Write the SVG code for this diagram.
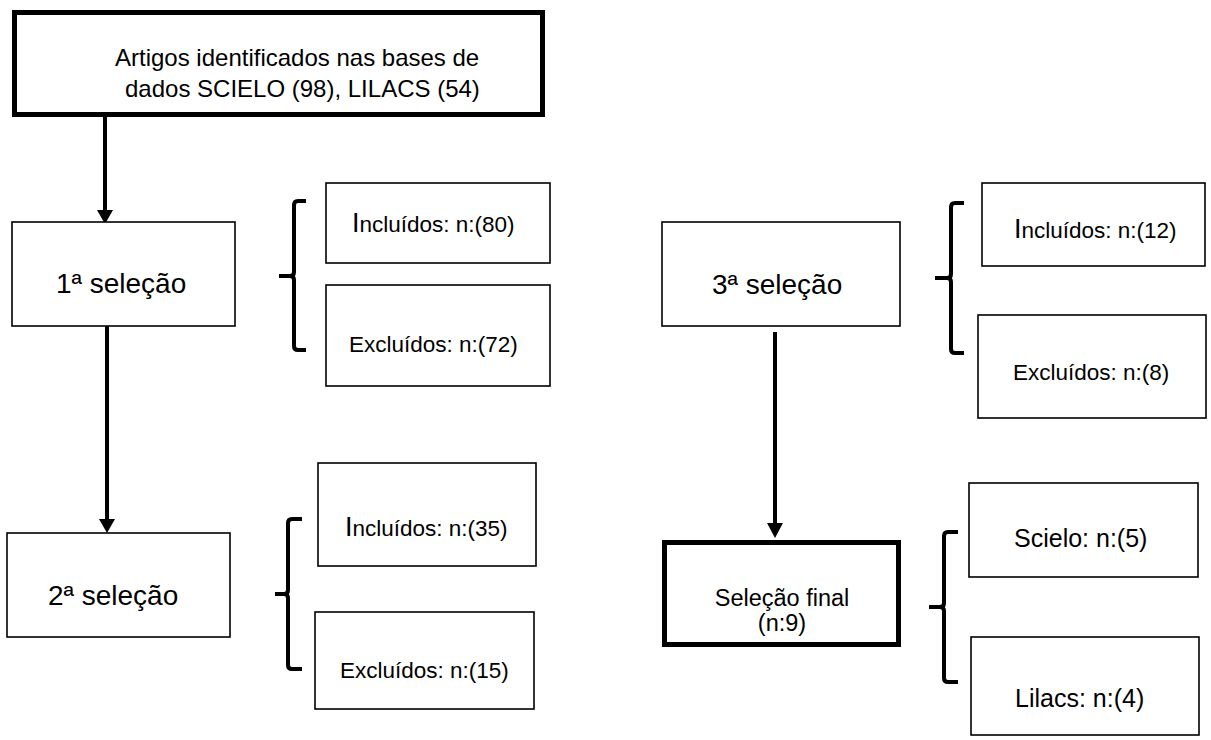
<svg xmlns="http://www.w3.org/2000/svg" width="1211" height="740" viewBox="0 0 1211 740">
<style>
  .box{fill:#fff;stroke:#000;stroke-width:1.6}
  .thick{fill:#fff;stroke:#000;stroke-width:5}
  .t{font-family:"Liberation Sans",Arial,sans-serif;fill:#000}
  .sel{font-size:28px}
  .top{font-size:24px}
  .lab{font-size:22.5px}
  .cap{font-size:27px}
  .fin{font-size:23.5px}
  .db{font-size:25px}
  .con{stroke:#000;stroke-width:4;fill:none}
  .br{stroke:#000;stroke-width:4;fill:none;stroke-linejoin:round}
  .head{fill:#000}
</style>
<rect width="1211" height="740" fill="#fff"/>
<g id="connectors">
  <line class="con" x1="105" y1="117" x2="105" y2="212"/>
  <polygon class="head" points="97,210 113,210 105,224"/>
  <line class="con" x1="107" y1="326" x2="107" y2="521"/>
  <polygon class="head" points="99,519 115,519 107,533"/>
  <line class="con" x1="775" y1="332" x2="775" y2="525"/>
  <polygon class="head" points="767,523 783,523 775,538"/>
  <path class="br" d="M306,201 H298 Q294,201 294,205 V272 Q294,276 290,276 H279 M290,276 Q294,276 294,280 V346 Q294,350 298,350 H306"/>
  <path class="br" d="M302,519 H292 Q288,519 288,523 V590 Q288,594 284,594 H275 M284,594 Q288,594 288,598 V665 Q288,669 292,669 H302"/>
  <path class="br" d="M964,203 H955 Q951,203 951,207 V274 Q951,278 947,278 H935 M947,278 Q951,278 951,282 V349 Q951,353 955,353 H964"/>
  <path class="br" d="M958,532 H948 Q944,532 944,536 V603 Q944,607 940,607 H929 M940,607 Q944,607 944,611 V678 Q944,682 948,682 H958"/>
</g>
<g id="n0">
  <rect class="thick" x="14.5" y="12.5" width="528" height="102"/>
  <text class="t top" x="115" y="66">Artigos identificados nas bases de</text>
  <text class="t top" x="125" y="97">dados SCIELO (98), LILACS (54)</text>
</g>
<g id="n1">
  <rect class="box" x="12" y="222" width="223" height="104"/>
  <text class="t sel" x="56" y="293">1ª  seleção</text>
</g>
<g id="n1a">
  <rect class="box" x="326" y="183" width="224" height="80"/>
  <text class="t lab" x="352" y="232"><tspan class="cap">I</tspan>ncluídos: n:(80)</text>
</g>
<g id="n1b">
  <rect class="box" x="326" y="285" width="224" height="101"/>
  <text class="t lab" x="349" y="352">Excluídos: n:(72)</text>
</g>
<g id="n2">
  <rect class="box" x="7" y="533" width="223" height="104"/>
  <text class="t sel" x="48" y="605">2ª  seleção</text>
</g>
<g id="n2a">
  <rect class="box" x="318" y="463" width="218" height="103"/>
  <text class="t lab" x="345" y="536"><tspan class="cap">I</tspan>ncluídos: n:(35)</text>
</g>
<g id="n2b">
  <rect class="box" x="315" y="612" width="219" height="97"/>
  <text class="t lab" x="340" y="678">Excluídos: n:(15)</text>
</g>
<g id="n3">
  <rect class="box" x="662" y="222" width="238" height="104"/>
  <text class="t sel" x="712" y="294">3ª  seleção</text>
</g>
<g id="n3a">
  <rect class="box" x="982" y="183" width="223" height="83"/>
  <text class="t lab" x="1014" y="238"><tspan class="cap">I</tspan>ncluídos: n:(12)</text>
</g>
<g id="n3b">
  <rect class="box" x="978" y="315" width="228" height="103"/>
  <text class="t lab" x="1013" y="380">Excluídos: n:(8)</text>
</g>
<g id="n4">
  <rect class="thick" x="664.5" y="542.5" width="234" height="102"/>
  <text class="t fin" x="782" y="606" text-anchor="middle">Seleção final</text>
  <text class="t fin" x="782" y="631" text-anchor="middle">(n:9)</text>
</g>
<g id="n4a">
  <rect class="box" x="969" y="483" width="229" height="94"/>
  <text class="t db" x="1014" y="547">Scielo: n:(5)</text>
</g>
<g id="n4b">
  <rect class="box" x="971" y="637" width="228" height="98"/>
  <text class="t db" x="1015" y="707">Lilacs: n:(4)</text>
</g>
</svg>
